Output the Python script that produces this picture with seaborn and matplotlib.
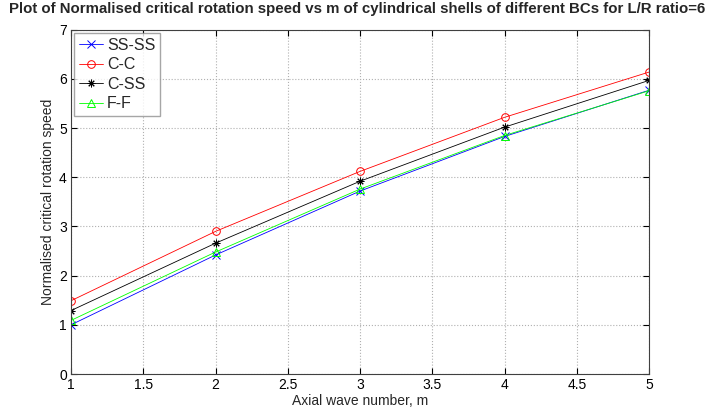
import matplotlib
matplotlib.use("Agg")
import matplotlib.pyplot as plt
import seaborn as sns
import pandas as pd

m = [1, 2, 3, 4, 5]
ss_ss = [1.00, 2.42, 3.72, 4.83, 5.77]
c_c = [1.49, 2.90, 4.12, 5.22, 6.14]
c_ss = [1.29, 2.66, 3.92, 5.02, 5.97]
f_f = [1.09, 2.48, 3.76, 4.85, 5.76]
labels = ["SS-SS", "C-C", "C-SS", "F-F"]

sns.set_theme(style="white")
plt.rcParams["font.family"] = ["Liberation Sans", "DejaVu Sans"]

fig = plt.figure(figsize=(7.15, 4.12), dpi=100)
ax = fig.add_axes([0.0993, 0.0922, 0.8084, 0.8355])

series = [ss_ss, c_c, c_ss, f_f]
colors = ["#0000ff", "#ff0000", "#000000", "#00ff00"]
markers = ["x", "o", (8, 2, 0), "^"]
for vals, lab, col, mk in zip(series, labels, colors, markers):
    df = pd.DataFrame({"m": m, "v": vals})
    sns.lineplot(data=df, x="m", y="v", ax=ax, color=col, marker=mk, label=lab,
                 linewidth=0.6, markersize=5.5, markerfacecolor="none",
                 markeredgecolor=col, markeredgewidth=0.7)

ax.set_xlim(1, 5)
ax.set_ylim(0, 7)
ax.set_xticks([1, 1.5, 2, 2.5, 3, 3.5, 4, 4.5, 5])
ax.set_xticklabels(["1", "1.5", "2", "2.5", "3", "3.5", "4", "4.5", "5"])
ax.set_yticks(range(0, 8))
ax.grid(True, color="#b0b0b0", linestyle=":", linewidth=0.8)
ax.tick_params(direction="in", length=4.5, labelsize=10, colors="black",
               top=True, right=True, bottom=True, left=True, pad=3,
               width=0.8)
for s in ax.spines.values():
    s.set_color("#404040")
    s.set_linewidth(0.8)
ax.set_xlabel("Axial wave number, m", fontsize=10)
ax.set_ylabel("Normalised critical rotation speed", fontsize=10)
ax.xaxis.set_label_coords(0.5, -0.058)
ax.yaxis.set_label_coords(-0.027, 0.5)
fig.suptitle("Plot of Normalised critical rotation speed vs m of cylindrical shells of different BCs for L/R ratio=6",
             fontsize=10.8, fontweight="bold", x=0.5, y=0.995, va="top")
leg = ax.legend(loc="upper left", fontsize=11.5, frameon=True, fancybox=False,
                edgecolor="#909090", borderpad=0.3, handlelength=1.5,
                handletextpad=0.25, labelspacing=0.28, borderaxespad=0.2)
leg.get_frame().set_linewidth(1.0)
fig.savefig("out.png", dpi=100)
